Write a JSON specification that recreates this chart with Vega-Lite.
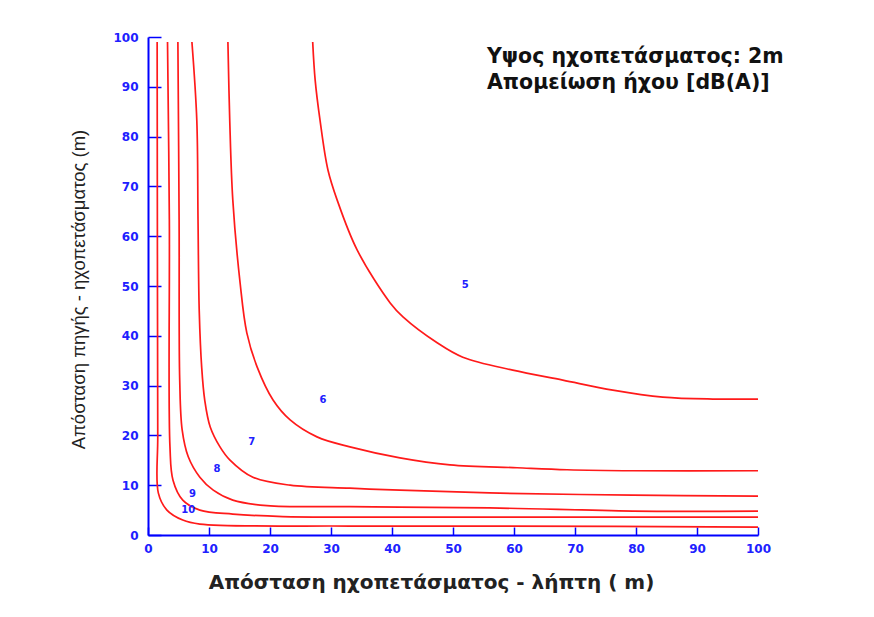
{
  "$schema": "https://vega.github.io/schema/vega-lite/v6.json",
  "width": 610,
  "height": 498,
  "autosize": "none",
  "padding": {"left": 148, "top": 37, "right": 116, "bottom": 82},
  "background": "white",
  "config": {"view": {"stroke": null}},
  "title": {
    "text": ["Υψος ηχοπετάσματος: 2m", "Απομείωση ήχου [dB(A)]"],
    "anchor": "start",
    "frame": "group",
    "orient": "top",
    "baseline": "top",
    "offset": 0,
    "dx": 339,
    "dy": 62,
    "font": "DejaVu Sans",
    "fontSize": 20.5,
    "fontWeight": "bold",
    "lineHeight": 26,
    "color": "#111111"
  },
  "datasets": {
    "curves": [
      {"level": 5, "i": 0, "x": 27.0, "y": 99.0},
      {"level": 5, "i": 1, "x": 27.4, "y": 91.4},
      {"level": 5, "i": 2, "x": 28.2, "y": 83.3},
      {"level": 5, "i": 3, "x": 29.5, "y": 73.3},
      {"level": 5, "i": 4, "x": 31.0, "y": 67.3},
      {"level": 5, "i": 5, "x": 34.3, "y": 57.2},
      {"level": 5, "i": 6, "x": 39.7, "y": 46.6},
      {"level": 5, "i": 7, "x": 41.8, "y": 43.8},
      {"level": 5, "i": 8, "x": 47.4, "y": 38.6},
      {"level": 5, "i": 9, "x": 51.6, "y": 35.7},
      {"level": 5, "i": 10, "x": 59.8, "y": 33.1},
      {"level": 5, "i": 11, "x": 68.0, "y": 31.1},
      {"level": 5, "i": 12, "x": 76.2, "y": 29.1},
      {"level": 5, "i": 13, "x": 84.4, "y": 27.7},
      {"level": 5, "i": 14, "x": 92.6, "y": 27.3},
      {"level": 5, "i": 15, "x": 100.0, "y": 27.3},

      {"level": 6, "i": 0, "x": 13.1, "y": 99.0},
      {"level": 6, "i": 1, "x": 13.4, "y": 83.3},
      {"level": 6, "i": 2, "x": 13.9, "y": 67.3},
      {"level": 6, "i": 3, "x": 15.1, "y": 50.6},
      {"level": 6, "i": 4, "x": 16.2, "y": 40.6},
      {"level": 6, "i": 5, "x": 17.9, "y": 33.7},
      {"level": 6, "i": 6, "x": 20.5, "y": 27.1},
      {"level": 6, "i": 7, "x": 23.3, "y": 23.1},
      {"level": 6, "i": 8, "x": 27.7, "y": 19.7},
      {"level": 6, "i": 9, "x": 33.1, "y": 17.7},
      {"level": 6, "i": 10, "x": 41.3, "y": 15.5},
      {"level": 6, "i": 11, "x": 49.5, "y": 14.1},
      {"level": 6, "i": 12, "x": 60.5, "y": 13.5},
      {"level": 6, "i": 13, "x": 68.7, "y": 13.1},
      {"level": 6, "i": 14, "x": 79.5, "y": 12.9},
      {"level": 6, "i": 15, "x": 100.0, "y": 12.9},

      {"level": 7, "i": 0, "x": 7.2, "y": 99.0},
      {"level": 7, "i": 1, "x": 8.0, "y": 83.3},
      {"level": 7, "i": 2, "x": 8.2, "y": 63.3},
      {"level": 7, "i": 3, "x": 8.4, "y": 45.0},
      {"level": 7, "i": 4, "x": 8.8, "y": 33.7},
      {"level": 7, "i": 5, "x": 9.3, "y": 27.1},
      {"level": 7, "i": 6, "x": 10.2, "y": 21.7},
      {"level": 7, "i": 7, "x": 11.8, "y": 17.7},
      {"level": 7, "i": 8, "x": 13.4, "y": 15.1},
      {"level": 7, "i": 9, "x": 17.2, "y": 11.6},
      {"level": 7, "i": 10, "x": 23.3, "y": 10.0},
      {"level": 7, "i": 11, "x": 33.1, "y": 9.4},
      {"level": 7, "i": 12, "x": 41.3, "y": 9.0},
      {"level": 7, "i": 13, "x": 57.7, "y": 8.4},
      {"level": 7, "i": 14, "x": 79.5, "y": 8.0},
      {"level": 7, "i": 15, "x": 100.0, "y": 7.8},

      {"level": 8, "i": 0, "x": 4.9, "y": 99.0},
      {"level": 8, "i": 1, "x": 5.1, "y": 63.3},
      {"level": 8, "i": 2, "x": 5.2, "y": 31.1},
      {"level": 8, "i": 3, "x": 5.6, "y": 21.1},
      {"level": 8, "i": 4, "x": 6.6, "y": 15.7},
      {"level": 8, "i": 5, "x": 8.5, "y": 11.6},
      {"level": 8, "i": 6, "x": 10.7, "y": 9.0},
      {"level": 8, "i": 7, "x": 13.9, "y": 7.0},
      {"level": 8, "i": 8, "x": 19.5, "y": 5.9},
      {"level": 8, "i": 9, "x": 33.1, "y": 5.7},
      {"level": 8, "i": 10, "x": 41.3, "y": 5.6},
      {"level": 8, "i": 11, "x": 57.7, "y": 5.4},
      {"level": 8, "i": 12, "x": 79.5, "y": 4.8},
      {"level": 8, "i": 13, "x": 100.0, "y": 4.8},

      {"level": 9, "i": 0, "x": 3.2, "y": 99.0},
      {"level": 9, "i": 1, "x": 3.5, "y": 63.3},
      {"level": 9, "i": 2, "x": 3.6, "y": 17.7},
      {"level": 9, "i": 3, "x": 4.1, "y": 11.0},
      {"level": 9, "i": 4, "x": 5.7, "y": 7.0},
      {"level": 9, "i": 5, "x": 8.5, "y": 5.0},
      {"level": 9, "i": 6, "x": 13.9, "y": 4.2},
      {"level": 9, "i": 7, "x": 22.1, "y": 3.7},
      {"level": 9, "i": 8, "x": 33.1, "y": 3.6},
      {"level": 9, "i": 9, "x": 100.0, "y": 3.6},

      {"level": 10, "i": 0, "x": 1.5, "y": 99.0},
      {"level": 10, "i": 1, "x": 1.55, "y": 50.0},
      {"level": 10, "i": 2, "x": 1.6, "y": 20.0},
      {"level": 10, "i": 3, "x": 1.7, "y": 8.4},
      {"level": 10, "i": 4, "x": 3.1, "y": 5.0},
      {"level": 10, "i": 5, "x": 5.7, "y": 3.0},
      {"level": 10, "i": 6, "x": 8.5, "y": 2.2},
      {"level": 10, "i": 7, "x": 33.1, "y": 1.8},
      {"level": 10, "i": 8, "x": 57.7, "y": 1.8},
      {"level": 10, "i": 9, "x": 100.0, "y": 1.6}
    ],
    "labels": [
      {"level": "5", "x": 52.0, "y": 50.2},
      {"level": "6", "x": 28.7, "y": 27.1},
      {"level": "7", "x": 17.0, "y": 18.7},
      {"level": "8", "x": 11.3, "y": 13.2},
      {"level": "9", "x": 7.3, "y": 8.2},
      {"level": "10", "x": 6.6, "y": 5.0}
    ]
  },
  "encoding": {
    "x": {
      "field": "x",
      "type": "quantitative",
      "scale": {"domain": [0, 100], "nice": false, "zero": false},
      "axis": {
        "values": [0, 10, 20, 30, 40, 50, 60, 70, 80, 90, 100],
        "grid": false,
        "domainColor": "#0000ff",
        "domainWidth": 2,
        "tickColor": "#0000ff",
        "tickWidth": 1.5,
        "tickSize": -8,
        "labelPadding": 16,
        "labelColor": "#2020ff",
        "labelFont": "DejaVu Sans",
        "labelFontWeight": "bold",
        "labelFontSize": 12,
        "labelFlush": false,
        "encode": {"ticks": {"update": {"y2": {"value": -8}}}},
        "title": "Απόσταση ηχοπετάσματος - λήπτη ( m)",
        "titleFont": "DejaVu Sans",
        "titleFontSize": 20,
        "titleFontWeight": "bold",
        "titleColor": "#222222",
        "titleX": 283,
        "titleY": 47,
        "titleBaseline": "middle",
        "titleAlign": "center"
      }
    },
    "y": {
      "field": "y",
      "type": "quantitative",
      "scale": {"domain": [0, 100], "nice": false, "zero": false},
      "axis": {
        "values": [0, 10, 20, 30, 40, 50, 60, 70, 80, 90, 100],
        "grid": false,
        "domainColor": "#0000ff",
        "domainWidth": 2,
        "tickColor": "#0000ff",
        "tickWidth": 1.5,
        "tickSize": -13,
        "labelPadding": 23,
        "labelColor": "#2020ff",
        "labelFont": "DejaVu Sans",
        "labelFontWeight": "bold",
        "labelFontSize": 12,
        "labelFlush": false,
        "encode": {"ticks": {"update": {"x2": {"value": 13}}}},
        "title": "Απόσταση πηγής - ηχοπετάσματος (m)",
        "titleFont": "Liberation Sans",
        "titleFontSize": 18.5,
        "titleFontWeight": "normal",
        "titleColor": "#222222",
        "titleX": -70,
        "titleY": 252,
        "titleAngle": -90,
        "titleBaseline": "middle",
        "titleAlign": "center"
      }
    }
  },
  "layer": [
    {
      "data": {"name": "curves"},
      "mark": {"type": "line", "color": "#ff1a1a", "strokeWidth": 1.7, "interpolate": "catmull-rom", "clip": true},
      "encoding": {
        "detail": {"field": "level", "type": "nominal"},
        "order": {"field": "i", "type": "quantitative"}
      }
    },
    {
      "data": {"name": "labels"},
      "mark": {"type": "text", "color": "#2020ff", "font": "DejaVu Sans", "fontWeight": "bold", "fontSize": 10},
      "encoding": {
        "text": {"field": "level", "type": "nominal"}
      }
    }
  ]
}
